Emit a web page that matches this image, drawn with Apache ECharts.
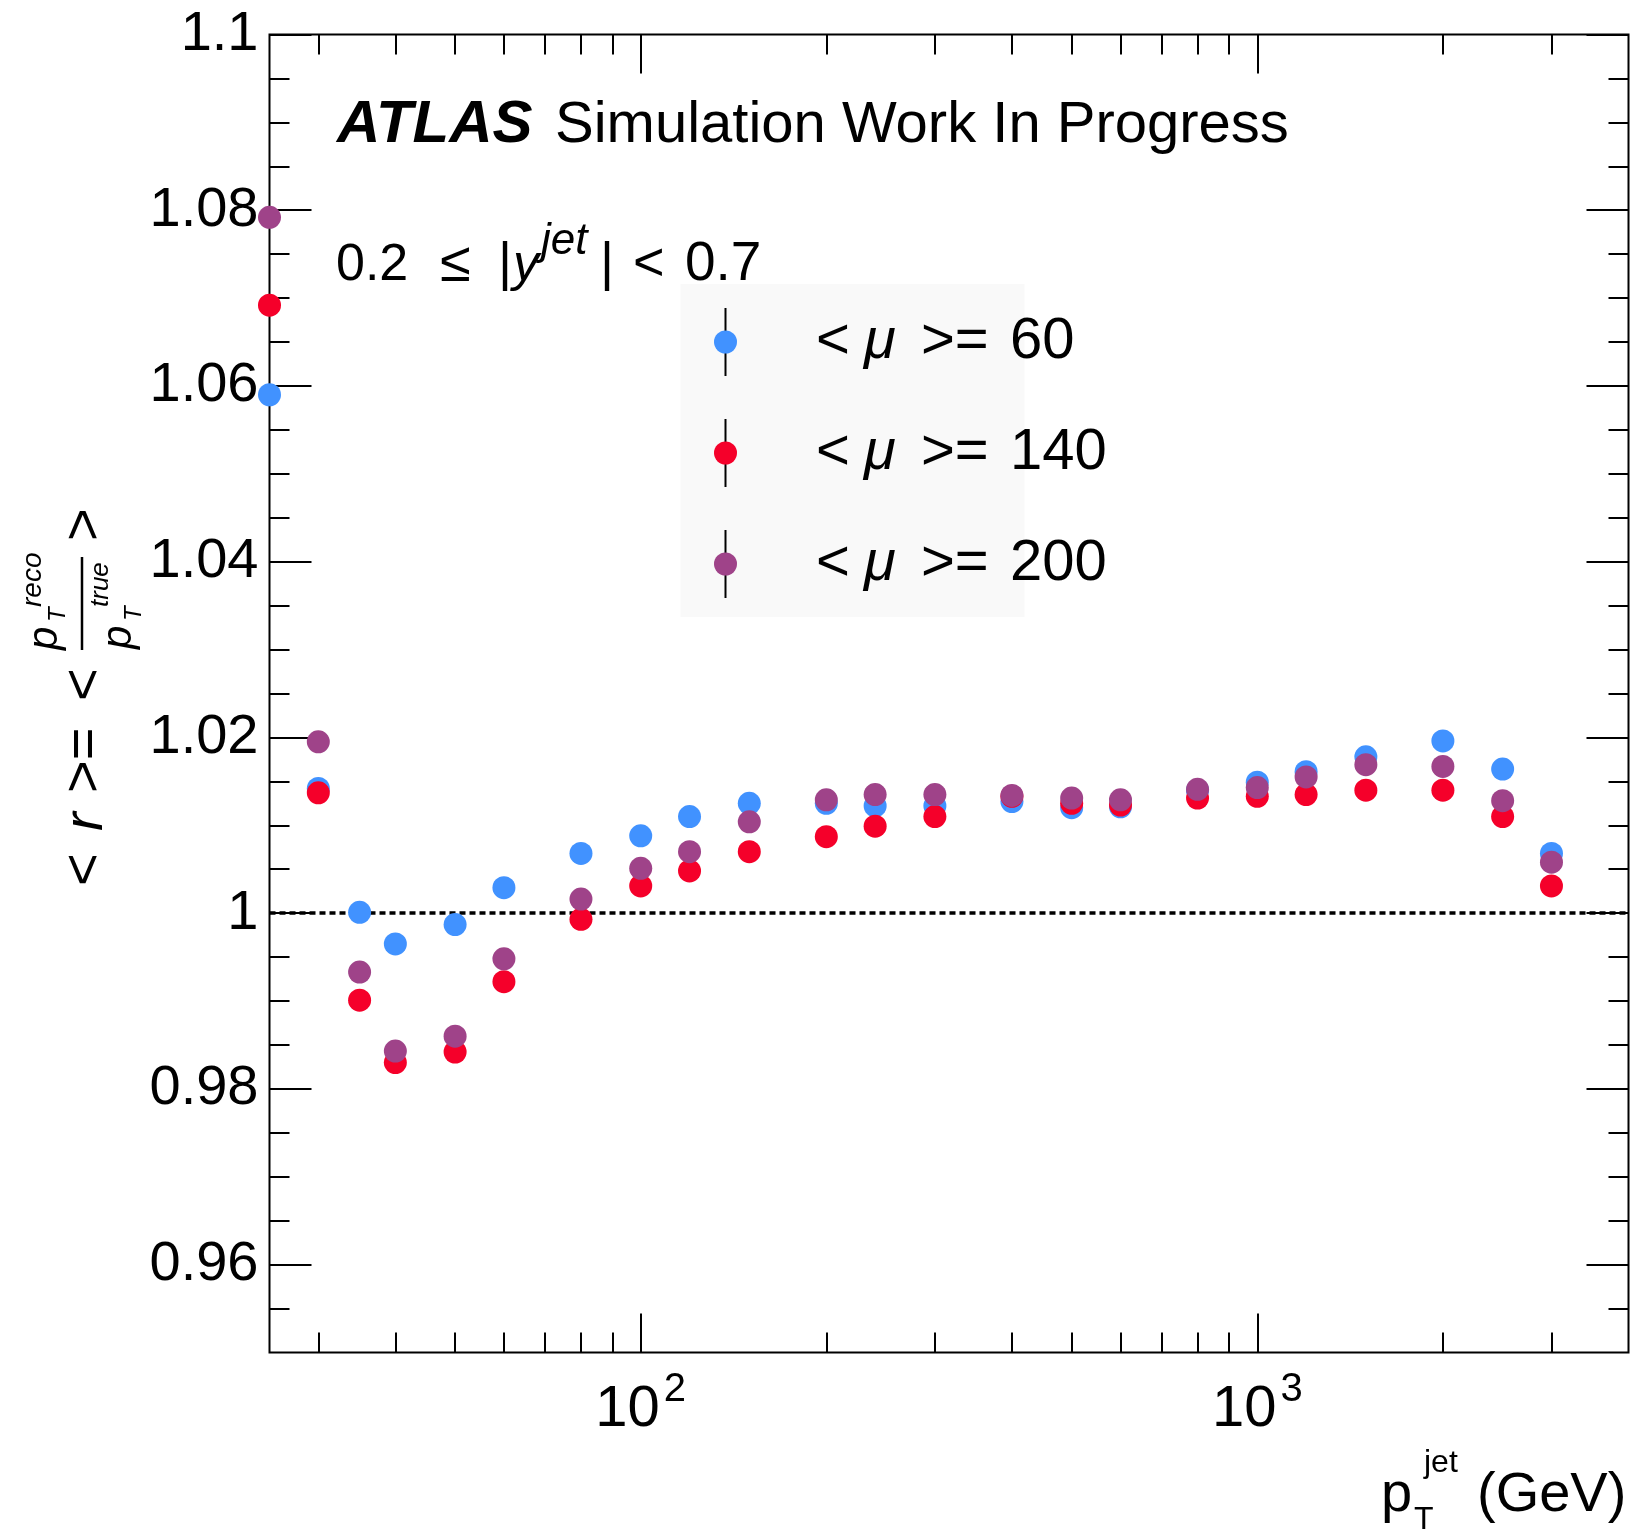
<!DOCTYPE html>
<html>
<head>
<meta charset="utf-8">
<script src="https://cdn.jsdelivr.net/npm/echarts@6/dist/echarts.min.js"></script>
<style>
  html, body { margin: 0; padding: 0; background: #fff; }
  #chart_container { width: 1639px; height: 1533px; }
</style>
</head>
<body>
<div id="chart_container"></div>
<script>
// pT bins (GeV)
const ptBins = [25, 30, 35, 40, 50, 60, 80, 100, 120, 150, 200, 240, 300, 400, 500, 600, 800, 1000, 1200, 1500, 2000, 2500, 3000]
// <r> per pile-up condition
const mu60 = [1.0590, 1.0142, 1.0001, 0.9965, 0.9987, 1.0029, 1.0068, 1.0088, 1.0110, 1.0125, 1.0125, 1.0122, 1.0122, 1.0127, 1.0120, 1.0121, 1.0140, 1.0149, 1.0161, 1.0178, 1.0196, 1.0164, 1.0068]
const mu140 = [1.0692, 1.0137, 0.9901, 0.9830, 0.9842, 0.9922, 0.9993, 1.0031, 1.0048, 1.0070, 1.0087, 1.0099, 1.0110, 1.0133, 1.0125, 1.0123, 1.0131, 1.0133, 1.0135, 1.0140, 1.0140, 1.0110, 1.0031]
const mu200 = [1.0792, 1.0195, 0.9933, 0.9843, 0.9860, 0.9948, 1.0016, 1.0051, 1.0070, 1.0104, 1.0129, 1.0135, 1.0135, 1.0134, 1.0131, 1.0129, 1.0141, 1.0143, 1.0155, 1.0169, 1.0167, 1.0128, 1.0058]
const muLabels = ['60', '140', '200']

// axis ticks
const xMajorTicks = [100, 1000]
const xMinorTicks = [30, 40, 50, 60, 70, 80, 90, 200, 300, 400, 500, 600, 700, 800, 900, 2000, 3000]
const yMajorTicks = [0.96, 0.98, 1.0, 1.02, 1.04, 1.06, 1.08, 1.1]
const yMinorTicks = [0.955, 0.965, 0.97, 0.975, 0.985, 0.99, 0.995, 1.005, 1.01, 1.015, 1.025, 1.03, 1.035,
  1.045, 1.05, 1.055, 1.065, 1.07, 1.075, 1.085, 1.09, 1.095]

const FONT = '"Liberation Sans", Arimo, Arial, sans-serif'
const colors = ['#4192ff', '#f5002a', '#9f4389']

const X_MIN = 25, X_MAX = 4000, Y_MIN = 0.95, Y_MAX = 1.1

function xAxisDef(position, ticks, len, labels) {
  return {
    type: 'log',
    logBase: 10,
    position: position,
    min: X_MIN,
    max: X_MAX,
    axisLine: { show: false },
    splitLine: { show: false },
    minorTick: { show: false },
    axisTick: { show: true, inside: true, length: len, customValues: ticks, lineStyle: { color: '#000', width: 2 } },
    axisLabel: labels ? {
      show: true,
      customValues: ticks,
      margin: 27,
      color: '#000',
      formatter: (val) => '{b|10}{s|' + Math.round(Math.log10(val)) + '}',
      rich: {
        b: { fontSize: 58, fontFamily: FONT, lineHeight: 60, color: '#000' },
        s: { fontSize: 40, fontFamily: FONT, height: 20, lineHeight: 20, verticalAlign: 'top', padding: [0, 0, 0, 4], color: '#000' },
      },
    } : { show: false },
  }
}

function yAxisDef(position, ticks, len, labels) {
  return {
    type: 'value',
    position: position,
    min: Y_MIN,
    max: Y_MAX,
    axisLine: { show: false },
    splitLine: { show: false },
    axisTick: { show: true, inside: true, length: len, customValues: ticks, lineStyle: { color: '#000', width: 2 } },
    axisLabel: labels ? {
      show: true,
      customValues: ticks,
      margin: 11,
      color: '#000',
      fontSize: 56,
      fontFamily: FONT,
      formatter: (val) => String(parseFloat(val.toFixed(3))),
    } : { show: false },
  }
}

// small helper for free text pieces
function txt(text, x, y, size, extra) {
  return {
    type: 'text', x: x, y: y, z: 6, silent: true,
    style: Object.assign({
      text: text, fontSize: size, fontFamily: FONT, fill: '#000',
      align: 'left', verticalAlign: 'middle',
    }, extra || {}),
  }
}
const IT = { fontStyle: 'italic' }

// legend geometry: item height follows the text line height
const LEG_LEFT = 714, LEG_SYM = 23, LEG_LINE = 58, LEG_STEP = 111
const LEG_TOP = 342 - LEG_LINE / 2
const legendBars = muLabels.map((m, i) => {
  const cy = LEG_TOP + LEG_LINE / 2 + i * LEG_STEP
  return {
    type: 'line', z: 3, silent: true,
    shape: { x1: LEG_LEFT + LEG_SYM / 2, y1: cy - 34, x2: LEG_LEFT + LEG_SYM / 2, y2: cy + 34 },
    style: { stroke: '#000', lineWidth: 2 },
  }
})

const seriesValues = [mu60, mu140, mu200]

let chartPlot = echarts.init(document.getElementById('chart_container'), null, { renderer: 'canvas' })
let option = {
  animation: false,
  backgroundColor: '#fff',
  color: colors,
  grid: {
    left: 269.5,
    right: 10.5,
    top: 34.5,
    bottom: 180.5,
    show: true,
    borderColor: '#000',
    borderWidth: 2,
    backgroundColor: 'transparent',
    containLabel: false,
    outerBoundsMode: 'none',
  },
  legend: {
    data: muLabels,
    orient: 'vertical',
    left: LEG_LEFT,
    top: LEG_TOP,
    padding: 0,
    itemGap: LEG_STEP - LEG_LINE,
    itemWidth: LEG_SYM,
    itemHeight: LEG_SYM,
    icon: 'circle',
    selectedMode: false,
    z: 5,
    formatter: (name) => '{sp| }{lt|<}{mu|μ}{ge|>=}{v|' + name + '}',
    textStyle: {
      fontSize: 58,
      lineHeight: LEG_LINE,
      fontFamily: FONT,
      color: '#000',
      rich: {
        sp: { width: 74, lineHeight: LEG_LINE, fontSize: 58, fontFamily: FONT },
        lt: { width: 48, lineHeight: LEG_LINE, fontSize: 58, fontFamily: FONT, color: '#000' },
        mu: { width: 57, lineHeight: LEG_LINE, fontSize: 58, fontFamily: FONT, fontStyle: 'italic', color: '#000' },
        ge: { width: 89, lineHeight: LEG_LINE, fontSize: 58, fontFamily: FONT, color: '#000' },
        v: { lineHeight: LEG_LINE, fontSize: 58, fontFamily: FONT, color: '#000' },
      },
    },
  },
  xAxis: [
    xAxisDef('bottom', xMajorTicks, 39, true),
    xAxisDef('bottom', xMinorTicks, 20, false),
    xAxisDef('top', xMajorTicks, 39, false),
    xAxisDef('top', xMinorTicks, 20, false),
  ],
  yAxis: [
    yAxisDef('left', yMajorTicks, 42, true),
    yAxisDef('left', yMinorTicks, 20, false),
    yAxisDef('right', yMajorTicks, 42, false),
    yAxisDef('right', yMinorTicks, 20, false),
  ],
  series: seriesValues.map((vals, i) => ({
    name: muLabels[i],
    type: 'scatter',
    xAxisIndex: 0,
    yAxisIndex: 0,
    symbol: 'circle',
    symbolSize: 23,
    clip: false,
    z: 2 + i * 0.1,
    itemStyle: { color: colors[i], opacity: 1 },
    data: ptBins.map((x, j) => [x, vals[j]]),
    markLine: i === 0 ? {
      silent: true,
      z: 1,
      symbol: ['none', 'none'],
      label: { show: false },
      lineStyle: { color: '#000', width: 3.5, type: [6, 4] },
      data: [{ yAxis: 1 }],
    } : undefined,
  })),
  graphic: [
    // legend box
    { type: 'rect', z: 1, silent: true, shape: { x: 680.5, y: 284, width: 344, height: 333 }, style: { fill: '#f9f9f9' } },
    ...legendBars,
    // ATLAS label
    txt('ATLAS', 337, 125.5, 60, { fontStyle: 'italic', fontWeight: 'bold' }),
    txt('Simulation Work In Progress', 555, 125.5, 58),
    // rapidity bin
    txt('0.2', 336, 265.3, 52),
    txt('≤', 440, 265.3, 56),
    txt('|', 498, 265.3, 54),
    txt('y', 513, 265.3, 52, IT),
    txt('jet', 541, 242, 44, IT),
    txt('|', 600, 265.3, 54),
    txt('<', 633, 265.3, 54),
    txt('0.7', 685, 265.3, 55),
    // x axis title
    txt('p', 1381, 1495.6, 56),
    txt('jet', 1424, 1463, 32),
    txt('T', 1414, 1520, 32),
    txt('(GeV)', 1477, 1495.6, 56),
    // y axis title, rotated
    {
      type: 'group', x: 86, y: 883, rotation: Math.PI / 2, z: 6,
      children: [
        txt('<', -3, 0, 56),
        txt('r', 52, 0, 56, IT),
        txt('>=', 90, 0, 56),
        txt('<', 182, 0, 56),
        txt('p', 233, -40.5, 42, IT),
        txt('T', 261, -27.3, 24, IT),
        txt('reco', 276, -52.7, 28, IT),
        { type: 'line', z: 6, silent: true, shape: { x1: 233, y1: -4, x2: 326, y2: -4 }, style: { stroke: '#000', lineWidth: 2.5 } },
        txt('p', 234, 33.5, 42, IT),
        txt('T', 262, 48.7, 24, IT),
        txt('true', 276, 15, 26, IT),
        txt('>', 342, 0, 56),
      ],
    },
  ],
}
chartPlot.setOption(option)
window.addEventListener('resize', () => {
  chartPlot.resize()
})
</script>
</body>
</html>
